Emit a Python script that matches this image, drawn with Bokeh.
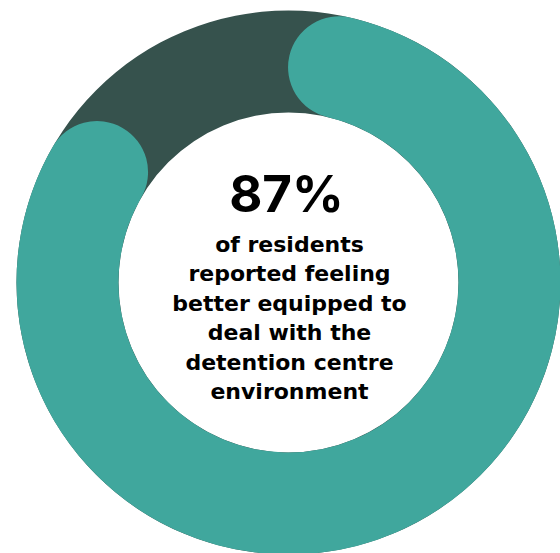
import math
from bokeh.plotting import figure
from bokeh.models import Range1d, ColumnDataSource
from bokeh.core.properties import value
from bokeh.embed import file_html
from bokeh.resources import INLINE

# ---- data ----
percent = [87]
headline = ["87%"]
caption_lines = [
    "of residents",
    "reported feeling",
    "better equipped to",
    "deal with the",
    "detention centre",
    "environment",
]

# ---- layout constants ----
W, H = 560, 553
cx, cy = 288, H - 282
r_in, r_out = 170, 272
r_mid = (r_in + r_out) / 2
band = r_out - r_in
teal = "#40a79d"
dark = "#36524d"

p = figure(width=W, height=H, output_backend="svg", toolbar_location=None,
           x_range=Range1d(0, W), y_range=Range1d(0, H),
           x_axis_type=None, y_axis_type=None, min_border=0,
           outline_line_color=None, background_fill_color="white",
           border_fill_color="white")
p.grid.visible = False

# background ring
p.annulus(x=[cx], y=[cy], inner_radius=r_in, outer_radius=r_out,
          fill_color=dark, line_color=None)

# value arc (visual length incl. round caps = percent of circle)
frac = percent[0] / 100.0
cap = (band / 2) / r_mid
start = math.pi / 2 - cap
end = math.pi / 2 - (frac * 2 * math.pi - cap)
p.arc(x=[cx], y=[cy], radius=r_mid, start_angle=start, end_angle=end,
      direction="clock", line_color=teal, line_width=band, line_cap="round")

# headline
hfs = 51
p.text(x=[286], y=[H - 210 + 0.34 * hfs], text=headline, text_align="center",
       text_baseline="alphabetic", text_font=value("Inter"),
       text_font_style="bold", text_font_size=f"{hfs}px", text_color="black")

# caption
cfs = 22
base = 251
step = 29.5
src = ColumnDataSource(dict(
    x=[289] * len(caption_lines),
    y=[H - (base + i * step) + 0.34 * cfs for i in range(len(caption_lines))],
    t=caption_lines))
p.text(x="x", y="y", text="t", source=src, text_align="center",
       text_baseline="alphabetic", text_font=value("DejaVu Sans"),
       text_font_style="bold", text_font_size=f"{cfs}px", text_color="black")

open("out.html", "w").write(file_html(p, INLINE))
